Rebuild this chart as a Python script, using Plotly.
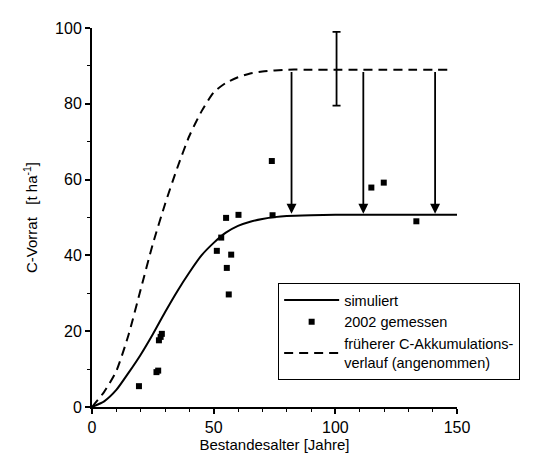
import plotly.graph_objects as go

# Simulated C stock curve (solid)
sim_age = [0, 5, 10, 15, 20, 25, 30, 35, 40, 45, 50, 55, 60, 65, 70, 75, 80, 90, 100, 110, 120, 130, 140, 150]
sim_c = [0, 1.5, 4.5, 9, 13.8, 19.2, 25, 30.5, 35.5, 40, 43.3, 46, 47.8, 48.9, 49.6, 50.1, 50.4, 50.6, 50.7, 50.7, 50.7, 50.7, 50.7, 50.7]

# Former (assumed) accumulation curve (dashed)
old_age = [0, 5, 10, 15, 20, 25, 30, 35, 40, 45, 50, 55, 60, 65, 70, 80, 90, 100, 110, 120, 130, 146]
old_c = [0, 4, 9.5, 19, 31, 43, 53.5, 63, 71.5, 78, 83, 85.5, 87, 88, 88.5, 89, 89, 89, 89, 89, 89, 89]

# Measured 2002
meas_age = [19.3, 26.5, 27.2, 27.5, 28.2, 28.7, 51.3, 53.1, 55.1, 55.4, 56.2, 57.2, 60.2, 73.9, 74.2, 114.8, 119.9, 133.3]
meas_c = [5.5, 9.2, 9.6, 17.6, 18.5, 19.3, 41.2, 44.7, 49.9, 36.7, 29.7, 40.2, 50.7, 64.9, 50.6, 57.9, 59.2, 49.0]

# Arrows (from former to simulated curve)
arrow_age = [82, 111.5, 141]
arrow_from = [88.8, 88.8, 88.8]
arrow_to = [51.0, 51.0, 51.0]

# Error bar
err_age = [100.5]
err_mid = [89]
err_plus = [10]
err_minus = [9.5]

font = "Liberation Sans, Arial, sans-serif"

fig = go.Figure()
fig.add_trace(go.Scatter(x=sim_age, y=sim_c, mode="lines", name="simuliert",
                         line=dict(color="black", width=2, shape="spline", smoothing=0.6)))
fig.add_trace(go.Scatter(x=meas_age, y=meas_c, mode="markers", name="2002 gemessen",
                         marker=dict(color="black", size=6, symbol="square")))
fig.add_trace(go.Scatter(x=old_age, y=old_c, mode="lines",
                         name="früherer C-Akkumulations-<br>verlauf (angenommen)",
                         line=dict(color="black", width=2, dash="9px,6px", shape="spline", smoothing=0.6)))
fig.add_trace(go.Scatter(x=err_age, y=err_mid, mode="markers", showlegend=False,
                         marker=dict(size=1, color="rgba(0,0,0,0)"),
                         error_y=dict(type="data", array=err_plus, arrayminus=err_minus,
                                      color="black", thickness=1.8, width=4)))

for a, y0, y1 in zip(arrow_age, arrow_from, arrow_to):
    fig.add_annotation(x=a, y=y1, ax=a, ay=y0, xref="x", yref="y", axref="x", ayref="y",
                       showarrow=True, arrowhead=2, arrowsize=1.1, arrowwidth=1.8,
                       arrowcolor="black", text="")

fig.update_layout(
    width=554, height=474,
    margin=dict(l=84, r=105, t=14, b=75),
    paper_bgcolor="white", plot_bgcolor="white",
    font=dict(family=font, color="black", size=16),
    showlegend=True,
    legend=dict(x=0.51, y=0.327, xanchor="left", yanchor="top",
                bordercolor="black", borderwidth=1, bgcolor="white",
                font=dict(size=14.5, family=font), itemwidth=55,
                tracegroupgap=2),
)
fig.update_xaxes(range=[0, 150], showgrid=False, zeroline=False,
                 showline=True, linecolor="black", linewidth=2,
                 ticks="outside", tickcolor="black", ticklen=5, tickwidth=1.5,
                 tickvals=[0, 50, 100, 150],
                 minor=dict(dtick=10, ticks="outside", ticklen=3, tickcolor="black", tickwidth=1),
                 title=dict(text="Bestandesalter [Jahre]", font=dict(size=15), standoff=2),
                 tickfont=dict(size=16))
fig.update_yaxes(range=[0, 100], showgrid=False, zeroline=False,
                 showline=True, linecolor="black", linewidth=2,
                 ticks="outside", tickcolor="black", ticklen=5, tickwidth=1.5,
                 tickvals=[0, 20, 40, 60, 80, 100],
                 minor=dict(dtick=10, ticks="outside", ticklen=3, tickcolor="black", tickwidth=1),
                 title=dict(text="C-Vorrat   [t ha<sup>-1</sup>]", font=dict(size=15), standoff=14),
                 tickfont=dict(size=16))

fig.write_html("out.html")
